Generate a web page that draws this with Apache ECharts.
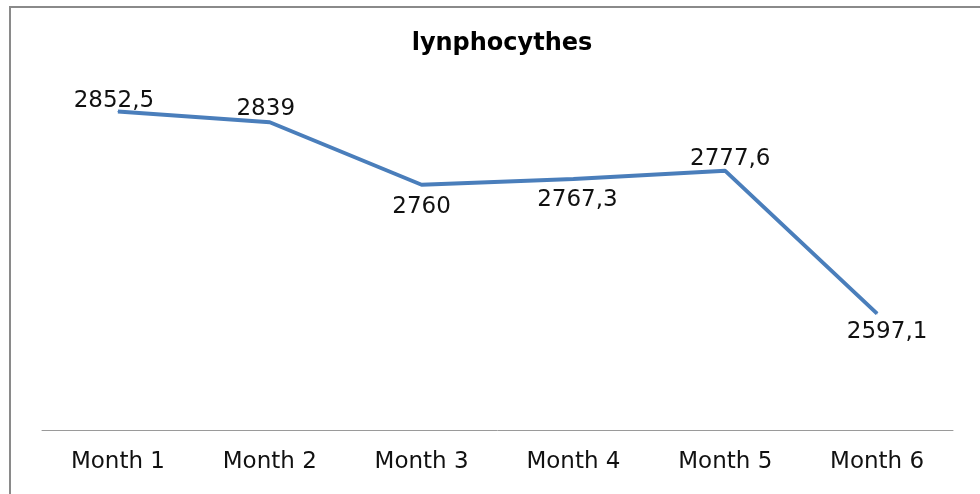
<!DOCTYPE html>
<html>
<head>
<meta charset="utf-8">
<script src="https://cdn.jsdelivr.net/npm/echarts@6/dist/echarts.min.js"></script>
<style>
  html, body { margin: 0; padding: 0; background: #fff; }
  .frame {
    position: absolute; left: 9px; top: 6px; right: 0; bottom: 0;
    border-left: 2px solid #8a8a8a; border-top: 2px solid #8a8a8a;
  }
  #chart { position: absolute; left: 0; top: 0; width: 980px; height: 494px; }
</style>
</head>
<body>
<div class="frame"></div>
<div id="chart"></div>
<script>
// data
const months = ['Month 1', 'Month 2', 'Month 3', 'Month 4', 'Month 5', 'Month 6'];
const lymphocytes = [2852.5, 2839, 2760, 2767.3, 2777.6, 2597.1];

// where each value label sits relative to its point
const labelPlacement = ['top', 'top', 'bottom', 'bottom', 'top', 'bottom'];
const labelOffsets = [[-4, 5], [-4, 3], [0, 6], [4, 5], [5, 4], [10, 2]];

const chart = echarts.init(document.getElementById('chart'));

const option = {
  animation: false,
  title: {
    text: 'lynphocythes',
    left: 497,
    top: 27,
    textAlign: 'center',
    textStyle: { fontFamily: 'DejaVu Sans', fontSize: 24, fontWeight: 'bold', color: '#000' }
  },
  grid: { left: 42, right: 27, top: 74, bottom: 64 },
  xAxis: {
    type: 'category',
    data: months,
    axisLine: { lineStyle: { color: '#9a9a9a', width: 1 } },
    axisTick: { show: false },
    axisLabel: { margin: 21, fontFamily: 'DejaVu Sans', fontSize: 23, color: '#111' }
  },
  yAxis: {
    type: 'value',
    min: 2450,
    max: 2900,
    show: false,
    splitLine: { show: false }
  },
  series: [{
    name: 'lynphocythes',
    type: 'line',
    showSymbol: true,
    symbol: 'circle',
    symbolSize: 1,
    itemStyle: { color: '#4a7ebb' },
    lineStyle: { color: '#4a7ebb', width: 4 },
    data: lymphocytes.map((v, i) => ({
      value: v,
      label: { position: labelPlacement[i], offset: labelOffsets[i] }
    })),
    label: {
      show: true,
      distance: 4,
      fontFamily: 'DejaVu Sans',
      fontSize: 23,
      color: '#111',
      formatter: p => String(p.value).replace('.', ',')
    }
  }]
};

chart.setOption(option);
</script>
</body>
</html>
